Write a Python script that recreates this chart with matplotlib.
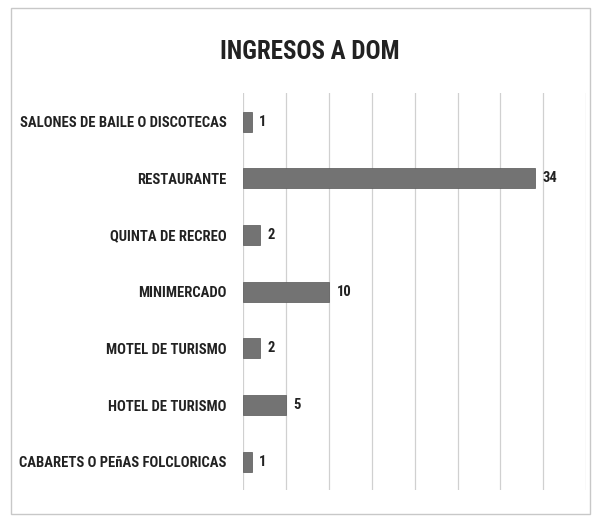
import matplotlib.pyplot as plt
from matplotlib.patches import Rectangle

categories = ['CABARETS O PEñAS FOLCLORICAS', 'HOTEL DE TURISMO', 'MOTEL DE TURISMO',
              'MINIMERCADO', 'QUINTA DE RECREO', 'RESTAURANTE',
              'SALONES DE BAILE O DISCOTECAS']
values = [1, 5, 2, 10, 2, 34, 1]

fam = ['Roboto Condensed', 'DejaVu Sans']

fig = plt.figure(figsize=(5.94, 5.18), dpi=100)
ax = fig.add_axes([0.409, 0.054, 0.578, 0.766])

# outer chart frame
fig.patches.append(Rectangle((0.018, 0.008), 0.975, 0.976, transform=fig.transFigure,
                             fill=False, edgecolor='#c8c8c8', linewidth=1.0))

y = range(len(categories))
bars = ax.barh(y, values, height=0.35, color='#737373', edgecolor='#555555', linewidth=0.5, zorder=3)
for b, v in zip(bars, values):
    ax.text(b.get_width() + 0.9, b.get_y() + b.get_height() / 2, str(v),
            va='center', ha='left', fontsize=10.5, fontweight='bold', family=fam, color='#222222')

ax.set_xlim(0, 40)
ax.set_ylim(-0.5, len(categories) - 0.5)
ax.set_xticks(range(0, 41, 5))
ax.set_yticks(list(y))
ax.set_yticklabels(categories, fontsize=10.5, fontweight='bold', family=fam, color='#222222')
ax.tick_params(axis='y', length=0, pad=12)
ax.tick_params(axis='x', length=0, labelbottom=False)
ax.grid(axis='x', color='#d0d0d0', linewidth=0.9, zorder=0)
for s in ax.spines.values():
    s.set_visible(False)

fig.text(0.522, 0.9, 'INGRESOS A DOM', ha='center', va='center', fontsize=18,
         fontweight='bold', family=fam, color='#222222')

fig.savefig('out.png', dpi=100)
